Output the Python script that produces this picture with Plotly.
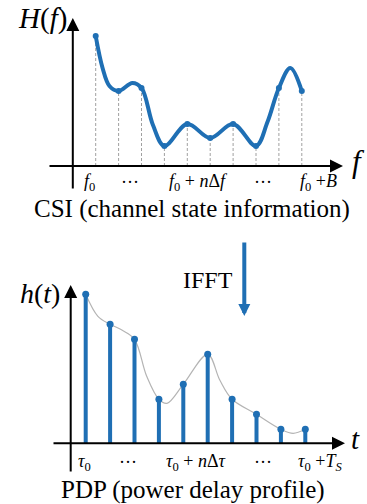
import plotly.graph_objects as go

# ---------------- data ----------------
# CSI (top): sampled channel frequency response
csi_idx = [0, 1, 2, 3, 4, 5, 6, 7, 8, 9]
csi_amp = [1.30, 0.75, 0.78, 0.20, 0.42, 0.28, 0.42, 0.20, 0.78, 0.75]
# smooth underlying curve
csi_curve_x = [0, 0.3, 0.6, 1, 1.6, 2, 2.5, 3, 4, 5, 6, 7, 7.5, 8, 8.5, 9]
csi_curve_y = [1.30, 0.98, 0.80, 0.75, 0.83, 0.78, 0.41, 0.20, 0.42, 0.28,
               0.42, 0.20, 0.44, 0.78, 0.98, 0.75]
csi_tick_labels = ["<i>f</i><sub>0</sub>", "···",
                   "<i>f</i><sub>0</sub> + <i>n</i>Δ<i>f</i>", "···",
                   "<i>f</i><sub>0</sub> +<i>B</i>"]
csi_tick_pos = [-0.29, 1.5, 4.47, 7.3, 9.75]

# PDP (bottom): power delay profile taps
pdp_idx = [0, 1, 2, 3, 4, 5, 6, 7, 8, 9]
pdp_amp = [1.49, 1.19, 1.04, 0.44, 0.59, 0.89, 0.44, 0.29, 0.14, 0.14]
pdp_curve_x = [0, 0.5, 1, 1.5, 2, 2.5, 3, 3.33, 4, 5, 5.5, 6, 7, 8, 8.5, 9]
pdp_curve_y = [1.49, 1.27, 1.19, 1.13, 1.04, 0.67, 0.44, 0.40, 0.59, 0.89,
               0.63, 0.44, 0.29, 0.14, 0.10, 0.14]
pdp_tick_labels = ["<i>τ</i><sub>0</sub>", "···",
                   "<i>τ</i><sub>0</sub> + <i>n</i>Δ<i>τ</i>", "···",
                   "<i>τ</i><sub>0</sub> +<i>T</i><sub><i>S</i></sub>"]
pdp_tick_pos = [-0.03, 1.73, 4.52, 7.27, 9.6]

# ---------------- styling / layout constants ----------------
W, H = 367, 504
BLUE = "#1F6FB4"
GRAY_DASH = "#A0A0A0"
GRAY_CURVE = "#B4B4B4"
SERIF = "Liberation Serif"

# pixel anchors of each panel (origin px, px per index, px per unit)
top_x0, top_dx, top_y0, top_dy = 95.7, 22.9, 166.0, 100.0
bot_x0, bot_dx, bot_y0, bot_dy = 85.7, 24.4, 443.3, 100.0

def xr(x0, dx):
    return [-x0 / dx, (W - x0) / dx]

def yr(y0, dy):
    return [(y0 - H) / dy, y0 / dy]

fig = go.Figure()

def sep_lines(xs, ys):
    X, Y = [], []
    for x, y in zip(xs, ys):
        X += [x, x, None]
        Y += [0, y, None]
    return X, Y

# --- top panel ---
dx_, dy_ = sep_lines(csi_idx, csi_amp)
fig.add_trace(go.Scatter(x=dx_, y=dy_, mode="lines", xaxis="x", yaxis="y",
                         line=dict(color=GRAY_DASH, width=1, dash="3px,2px"),
                         hoverinfo="skip", showlegend=False))
fig.add_trace(go.Scatter(x=csi_curve_x, y=csi_curve_y, mode="lines", xaxis="x", yaxis="y",
                         line=dict(color=BLUE, width=4, shape="spline", smoothing=1.0),
                         showlegend=False))
fig.add_trace(go.Scatter(x=csi_idx, y=csi_amp, mode="markers", xaxis="x", yaxis="y",
                         marker=dict(color=BLUE, size=6), showlegend=False))

# --- bottom panel ---
fig.add_trace(go.Scatter(x=pdp_curve_x, y=pdp_curve_y, mode="lines", xaxis="x2", yaxis="y2",
                         line=dict(color=GRAY_CURVE, width=1.2, shape="spline", smoothing=1.0),
                         showlegend=False))
sx, sy = sep_lines(pdp_idx, pdp_amp)
fig.add_trace(go.Scatter(x=sx, y=sy, mode="lines", xaxis="x2", yaxis="y2",
                         line=dict(color=BLUE, width=4), hoverinfo="skip", showlegend=False))
fig.add_trace(go.Scatter(x=pdp_idx, y=pdp_amp, mode="markers", xaxis="x2", yaxis="y2",
                         marker=dict(color=BLUE, size=7), showlegend=False))

ann = []

def arrow(x, y, ax, ay, xref, yref, color="black", width=2, size=1.3, head=2):
    ann.append(dict(x=x, y=y, ax=ax, ay=ay, xref=xref, yref=yref, axref=xref, ayref=yref,
                    text="", showarrow=True, arrowhead=head, arrowsize=size,
                    arrowwidth=width, arrowcolor=color, standoff=0, startstandoff=0))

def px2top(px, py):
    return (px - top_x0) / top_dx, (top_y0 - py) / top_dy

def px2bot(px, py):
    return (px - bot_x0) / bot_dx, (bot_y0 - py) / bot_dy

# top axes
yx, _ = px2top(72.8, 0)
_, yb = px2top(0, 190)
_, yt = px2top(0, 18)
arrow(yx, yt, yx, yb, "x", "y")
xl, _ = px2top(48, 0)
xt, _ = px2top(343, 0)
arrow(xt, 0, xl, 0, "x", "y")

# bottom axes
yx2, _ = px2bot(70.7, 0)
_, yb2 = px2bot(0, 473)
_, yt2 = px2bot(0, 285)
arrow(yx2, yt2, yx2, yb2, "x2", "y2")
xl2, _ = px2bot(52, 0)
xt2, _ = px2bot(345, 0)
arrow(xt2, 0, xl2, 0, "x2", "y2")

# IFFT arrow (domain coords == paper since domains are full and margins are 0)
arrow(244.3 / W, 1 - 316 / H, 244.3 / W, 1 - 241 / H, "x domain", "y domain",
      color=BLUE, width=4, size=0.6, head=2)

def text(x, y, s, size, xref="paper", yref="paper", xanchor="center"):
    ann.append(dict(x=x, y=y, xref=xref, yref=yref, text=s, showarrow=False,
                    xanchor=xanchor, yanchor="middle", borderpad=0,
                    font=dict(family=SERIF, size=size, color="black")))

# tick labels
_, ty = px2top(0, 182)
for p, lab in zip(csi_tick_pos, csi_tick_labels):
    text(p, ty, lab, 18, "x", "y")
_, ty2 = px2bot(0, 462)
for p, lab in zip(pdp_tick_pos, pdp_tick_labels):
    text(p, ty2, lab, 18, "x2", "y2")

# axis names and captions
text(42 / W, 1 - 19 / H, "<i>H</i>(<i>f</i>)", 29)
text(358 / W, 1 - 162 / H, "<i>f</i>", 31)
text(40 / W, 1 - 293 / H, "<i>h</i>(<i>t</i>)", 28)
text(355 / W, 1 - 439 / H, "<i>t</i>", 29)
text(192 / W, 1 - 209 / H, "CSI (channel state information)", 25)
text(208 / W, 1 - 280 / H, "IFFT", 24)
text(193 / W, 1 - 490 / H, "PDP (power delay profile)", 25)

fig.update_layout(
    width=W, height=H, margin=dict(l=0, r=0, t=0, b=0),
    paper_bgcolor="white", plot_bgcolor="rgba(0,0,0,0)",
    xaxis=dict(domain=[0, 1], range=xr(top_x0, top_dx), visible=False, fixedrange=True),
    yaxis=dict(domain=[0, 1], range=yr(top_y0, top_dy), visible=False, fixedrange=True),
    xaxis2=dict(domain=[0, 1], range=xr(bot_x0, bot_dx), visible=False, anchor="y2",
                overlaying="x", fixedrange=True),
    yaxis2=dict(domain=[0, 1], range=yr(bot_y0, bot_dy), visible=False, anchor="x2",
                overlaying="y", fixedrange=True),
    annotations=ann, showlegend=False,
)

fig.write_html("out.html", config={"displayModeBar": False},
               post_script="document.body.style.margin='0';document.body.style.padding='0';"
                           "document.body.style.overflow='hidden';")
